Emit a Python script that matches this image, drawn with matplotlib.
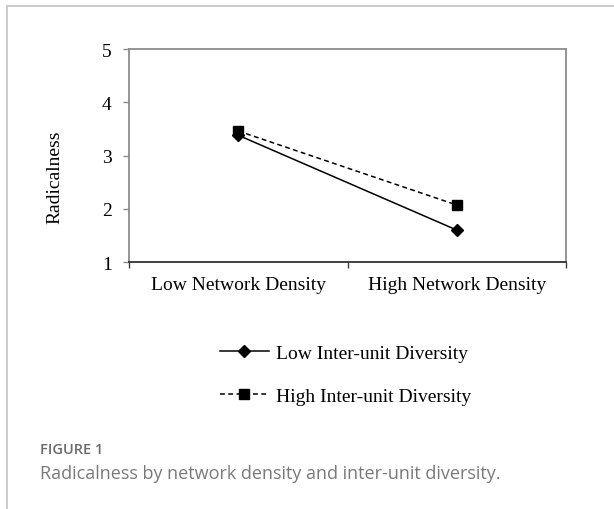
import numpy as np
import matplotlib
matplotlib.use("Agg")
import matplotlib.pyplot as plt
from matplotlib.lines import Line2D

# data
categories = ["Low Network Density", "High Network Density"]
low_div = [3.38, 1.60]
high_div = [3.46, 2.07]
series_names = ["Low Inter-unit Diversity", "High Inter-unit Diversity"]
yticks = [1, 2, 3, 4, 5]
caption_head = "FIGURE 1"
caption_text = "Radicalness by network density and inter-unit diversity."

serif = "Liberation Serif"
W, H = 614, 510
fig = plt.figure(figsize=(W / 100, H / 100), dpi=100)

# outer frame of the figure panel
fig.add_artist(Line2D([7 / W, 1], [1 - 7 / H, 1 - 7 / H], color="#c8c8c8", lw=1.3))
fig.add_artist(Line2D([7 / W, 7 / W], [0, 1 - 7 / H], color="#c8c8c8", lw=1.3))

ax = fig.add_axes([129 / W, 1 - 263 / H, (566 - 129) / W, (263 - 50) / H])

x = np.array([0.5, 1.5])
ax.plot(x, low_div, color="black", lw=1.1, marker="D", markersize=6.5,
        label=series_names[0])
ax.plot(x, high_div, color="black", lw=1.1, ls=(0, (3.2, 2.2)), marker="s",
        markersize=7.2, label=series_names[1])

ax.set_xlim(0, 2)
ax.set_ylim(1, 5)
ax.set_yticks(yticks)
ax.set_yticklabels([str(v) for v in yticks], fontsize=14, family=serif)
ax.set_xticks([0, 1, 2])
ax.set_xticklabels([])
ax.set_xticks(x, minor=True)
ax.set_xticklabels(categories, minor=True, fontsize=14, family=serif)
ax.tick_params(axis="x", which="minor", length=0, pad=10)
ax.tick_params(axis="x", which="major", length=4.5, width=1, color="#404040", direction="out")
ax.tick_params(axis="y", length=4.5, width=1, color="#8c8c8c", pad=8)

for side in ["left", "right", "top"]:
    ax.spines[side].set_color("#8c8c8c")
    ax.spines[side].set_linewidth(1.3)
ax.spines["bottom"].set_color("#303030")
ax.spines["bottom"].set_linewidth(1.3)

ax.set_ylabel("Radicalness", fontsize=14, family=serif)
ax.yaxis.set_label_coords((63.5 - 129) / 437, (263 - 177) / 213)

leg = fig.legend(loc="center", bbox_to_anchor=(345.5 / W, 1 - 375.5 / H),
                 frameon=False, prop={"family": serif, "size": 14},
                 handlelength=2.52, handletextpad=0.36, labelspacing=1.31)

fig.text(40 / W, 1 - 450 / H, caption_head, fontsize=10.5, color="#6b6b6b",
         family="Open Sans", weight="semibold", va="center")
fig.text(40 / W, 1 - 474 / H, caption_text, fontsize=13, color="#7a7a7a",
         family="Open Sans", va="center")

fig.savefig("out.png", dpi=100)
